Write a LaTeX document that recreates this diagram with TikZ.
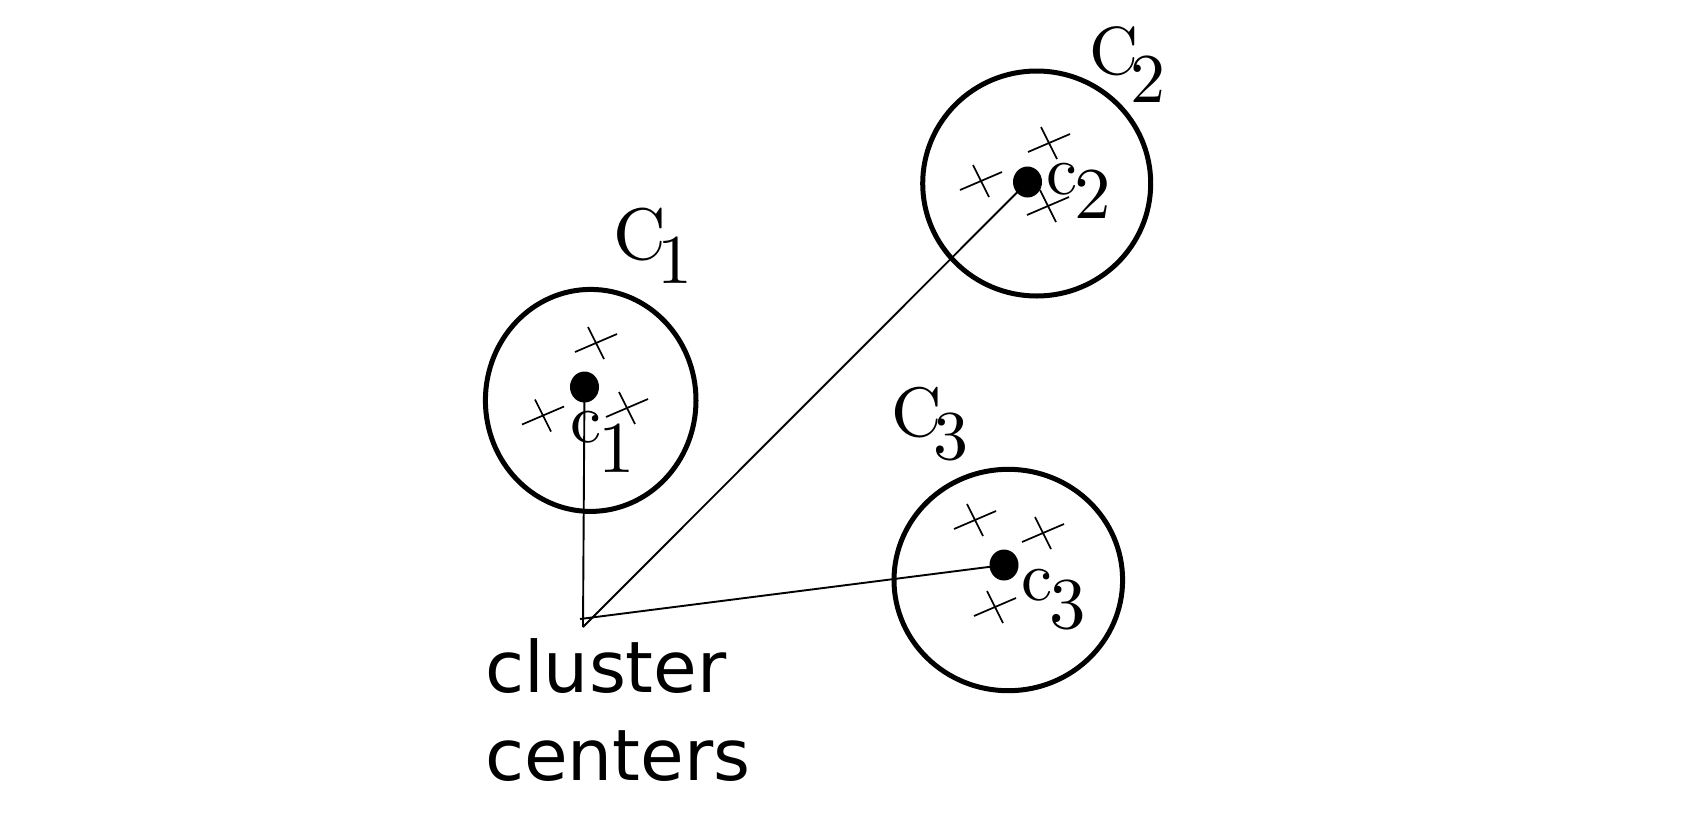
\documentclass[tikz,border=0pt]{standalone}
\usepackage{fontspec}
\newfontfamily\dejavu{DejaVu Sans}
\newfontfamily\lmten{lmroman10-regular}[Extension=.otf]
\newcommand\clab[6]{{\lmten\fontsize{#5}{#5}\selectfont #1\kern#3pt\raisebox{-#4pt}{\fontsize{#6}{#6}\selectfont #2}}}
\tikzset{
  ring/.style={line width=5pt},
  conn/.style={line width=1.9pt},
  dot/.style={ellipse, fill=black, inner sep=0pt, minimum width=29pt, minimum height=31pt},
  lbl/.style={inner sep=0pt, anchor=base west},
  xcross/.pic={\draw[line width=1.7pt] (-21,9)--(21,-9) (-8,-16)--(8,16);}
}
\usetikzlibrary{shapes.geometric}
\begin{document}
\begin{tikzpicture}[x=1pt,y=-1pt]
\useasboundingbox (0,0) rectangle (1684,812);
% clusters
\draw[ring] (590.7,400.4) ellipse [x radius=105.3, y radius=111];
\draw[ring] (1036.7,183.5) ellipse [x radius=114, y radius=112.5];
\draw[ring] (1008.3,580) ellipse [x radius=114.3, y radius=110.7];
% points
\pic at (596,343) {xcross};
\pic at (543,415.5) {xcross};
\pic at (627,408) {xcross};
\pic at (1049,143) {xcross};
\pic at (981,181) {xcross};
\pic at (1048,206) {xcross};
\pic at (975,520) {xcross};
\pic at (1043,533) {xcross};
\pic at (995,607) {xcross};
% centers
\node[dot] (c1) at (584.5,387) {};
\node[dot] (c2) at (1027.5,182) {};
\node[dot] (c3) at (1004,565) {};
\coordinate (m) at (583,627);
\coordinate (m3) at (580,619);
\draw[conn] (c1.center) -- (m);
\draw[conn] (c2.center) -- (m);
\draw[conn] (c3.center) -- (m3);
% labels
\node[lbl] (L1) at (613,259) {\clab{C}{1}{-8}{24}{73}{70}};
\node[lbl] (L2) at (1089,74) {\clab{C}{2}{-8}{28}{68}{70}};
\node[lbl] (L3) at (891,436) {\clab{C}{3}{-8}{23}{70}{70}};
\node[lbl] (l1) at (570,442) {\clab{c}{1}{-3}{30}{70}{73}};
\node[lbl] (l2) at (1046,194) {\clab{c}{2}{-3}{24}{70}{73}};
\node[lbl] (l3) at (1021,600) {\clab{c}{3}{-3}{28}{70}{73}};
\node[lbl, font=\dejavu\fontsize{71}{71}\selectfont] (t1) at (485,692) {cluster};
\node[lbl, font=\dejavu\fontsize{71}{71}\selectfont] (t2) at (485,780) {centers};
\end{tikzpicture}
\end{document}
